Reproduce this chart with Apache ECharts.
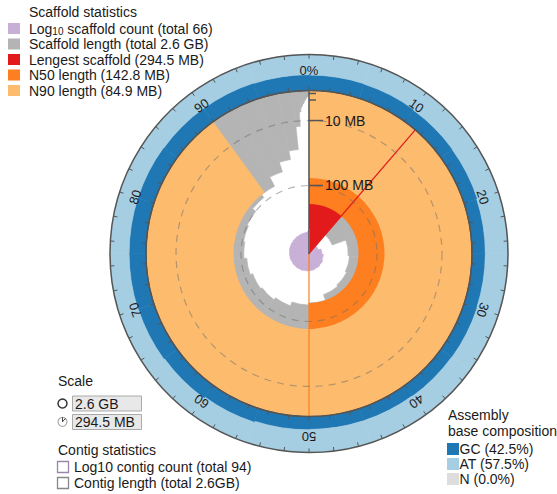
<!DOCTYPE html>
<html>
<head>
<meta charset="utf-8">
<title>Snail plot</title>
<script src="https://cdn.jsdelivr.net/npm/echarts@6.0.0/dist/echarts.min.js"></script>
<style>
html, body { margin: 0; padding: 0; background: #fff; }
#chart { width: 557px; height: 494px; }
</style>
</head>
<body>
<div id="chart"></div>
<script>
// Scaffold lengths (MB), longest first
const scaffoldLengths = [
  294.5, 212, 170, 166, 162, 158, 142.8,
  138, 128, 122, 118, 112, 106, 103, 100, 92, 84.9,
  66, 50, 38, 14, 5,
  3.2, 2.5, 2.0, 1.7, 1.4, 1.2, 1.0, 0.9, 0.8, 0.7, 0.65, 0.6, 0.55, 0.5, 0.45, 0.42,
  0.4, 0.37, 0.35, 0.32, 0.3, 0.28, 0.26, 0.24, 0.22, 0.2, 0.19, 0.18, 0.17, 0.16,
  0.15, 0.14, 0.13, 0.12, 0.11, 0.1, 0.09, 0.08, 0.07, 0.06, 0.05, 0.04, 0.03, 0.02
];
const longestMB = 294.5;
const n50MB = 142.8;
const n90MB = 84.9;
const scaffoldTotal = 66;
const contigTotal = 94;
// GC share (%) in each 5% window of the assembly
const gcWindows = [43, 42, 40, 39, 37, 37, 38, 37, 36, 36, 37, 40, 44, 46, 47, 47, 47, 46, 45, 44];
const basePct = { gc: 42.5, at: 57.5, n: 0.0 };
const radialMinorMB = [0.1, 1];
const radialMajorMB = [10, 100];
const ringLabels = ['0%', '10', '20', '30', '40', '50', '60', '70', '80', '90'];
const ringLabelPct = [0, 10, 20, 30, 40, 50, 60, 70, 80, 90];

const FONT = '"Liberation Sans", Arial, Helvetica, sans-serif';
const CX = 309, CY = 253.5;
const R_IN = 163, R_OUT = 199, R_COUNT = 25;
const C = {
  gray: '#b4b4b4', red: '#e31a1c', orange: '#fd7f1f', pale: '#fdbb6d',
  purple: '#c8afd6', gc: '#1f78b4', at: '#a6cee3', n: '#dddddd', axis: '#555555'
};

const totalMB = scaffoldLengths.reduce((a, b) => a + b, 0);
let acc = 0;
const spans = scaffoldLengths.map((len, i) => {
  const s = acc / totalMB * 100;
  acc += len;
  return [len, s, acc / totalMB * 100, i + 1];
});
const longestEnd = longestMB / totalMB * 100;

function angleAt(api, cs, pct, edgeVal) {
  const p = api.coord([edgeVal, pct]);
  return Math.atan2(p[1] - cs.cy, p[0] - cs.cx);
}
function radiusAt(api, cs, val, pct) {
  const p = api.coord([val, pct]);
  return Math.hypot(p[0] - cs.cx, p[1] - cs.cy);
}
function wedge(api, cs, v0, v1, p0, p1, edgeVal, fill, seam) {
  const r0 = radiusAt(api, cs, v0, p0), r1 = radiusAt(api, cs, v1, p0);
  const a0 = angleAt(api, cs, p0, edgeVal);
  let a1 = angleAt(api, cs, p1, edgeVal);
  while (a1 <= a0 + 1e-9) a1 += Math.PI * 2;
  return {
    type: 'sector',
    shape: { cx: cs.cx, cy: cs.cy, r0: Math.min(r0, r1), r: Math.max(r0, r1), startAngle: a0, endAngle: a1, clockwise: true },
    style: seam ? { fill, stroke: fill, lineWidth: 0.6 } : { fill }
  };
}
const sq = Math.sqrt;
const maxRoot = sq(longestMB);
const countRoot = sq(Math.log10(scaffoldTotal));

const gcData = gcWindows.map((g, i) => [g, i * 5, (i + 1) * 5]);

const series = [
  // scaffold length distribution
  {
    type: 'custom', coordinateSystem: 'polar', polarIndex: 0, z: 2, silent: true, clip: false,
    data: spans,
    renderItem(params, api) {
      return wedge(api, params.coordSys, sq(api.value(0)), 0, api.value(1), api.value(2), 0, C.gray, true);
    }
  },
  // longest scaffold
  {
    type: 'custom', coordinateSystem: 'polar', polarIndex: 0, z: 3, silent: true, clip: false,
    data: [[longestMB, 0, longestEnd]],
    renderItem(params, api) {
      return wedge(api, params.coordSys, sq(api.value(0)), 0, api.value(1), api.value(2), 0, C.red);
    }
  },
  // N50
  {
    type: 'custom', coordinateSystem: 'polar', polarIndex: 0, z: 4, silent: true, clip: false,
    data: [[n50MB, 0, 50]],
    renderItem(params, api) {
      return wedge(api, params.coordSys, sq(api.value(0)), 0, api.value(1), api.value(2), 0, C.orange);
    }
  },
  // N90
  {
    type: 'custom', coordinateSystem: 'polar', polarIndex: 0, z: 5, silent: true, clip: false,
    data: [[n90MB, 0, 90]],
    renderItem(params, api) {
      return wedge(api, params.coordSys, sq(api.value(0)), 0, api.value(1), api.value(2), 0, C.pale);
    }
  },
  // log10 cumulative scaffold count (square-root radial scale)
  {
    type: 'custom', coordinateSystem: 'polar', polarIndex: 2, z: 6, silent: true, clip: false,
    data: spans.map(s => [sq(Math.log10(s[3])), s[1], s[2]]),
    renderItem(params, api) {
      if (api.value(0) <= 0) return null;
      return wedge(api, params.coordSys, 0, api.value(0), api.value(1), api.value(2), countRoot, C.purple, true);
    }
  },
  // marker lines for longest scaffold and N50
  {
    type: 'custom', coordinateSystem: 'polar', polarIndex: 0, z: 7, silent: true, clip: false,
    data: [[longestEnd, 0], [50, 1]],
    renderItem(params, api) {
      const a = api.coord([maxRoot, api.value(0)]);
      const b = api.coord([0, api.value(0)]);
      return {
        type: 'line',
        shape: { x1: a[0], y1: a[1], x2: b[0], y2: b[1] },
        style: { stroke: api.value(1) ? C.orange : C.red, lineWidth: 1.2 }
      };
    }
  },
  // dashed reference circles
  {
    type: 'custom', coordinateSystem: 'polar', polarIndex: 0, z: 8, silent: true, clip: false,
    data: radialMajorMB.map(v => [sq(v), 0]),
    renderItem(params, api) {
      const cs = params.coordSys;
      return {
        type: 'circle',
        shape: { cx: cs.cx, cy: cs.cy, r: radiusAt(api, cs, api.value(0), 0) },
        style: { fill: 'none', stroke: 'rgba(110,110,110,0.5)', lineWidth: 1.2, lineDash: [7, 6] }
      };
    }
  },
  // radial length ticks and labels along the 0% line
  {
    type: 'custom', coordinateSystem: 'polar', polarIndex: 0, z: 12, silent: true, clip: false,
    data: radialMinorMB.map(v => [sq(v), 0, 0]).concat(radialMajorMB.map(v => [sq(v), 0, 1])),
    renderItem(params, api) {
      const p = api.coord([api.value(0), api.value(1)]);
      const major = api.value(2) === 1;
      const children = [{
        type: 'line',
        shape: { x1: p[0], y1: p[1], x2: p[0] + (major ? 14 : 7), y2: p[1] },
        style: { stroke: C.axis, lineWidth: 1.5 }
      }];
      if (major) {
        const mb = Math.round(api.value(0) * api.value(0));
        children.push({
          type: 'text', x: p[0] + 16, y: p[1],
          style: {
            text: mb + ' MB', x: 0, y: 0, fill: '#1a1a1a', fontSize: 14, fontFamily: FONT,
            align: 'left', verticalAlign: 'middle', textAlign: 'left', textVerticalAlign: 'middle'
          }
        });
      }
      return { type: 'group', children };
    }
  },
  // base composition ring
  {
    type: 'custom', coordinateSystem: 'polar', polarIndex: 1, z: 2, silent: true, clip: false,
    data: gcData,
    renderItem(params, api) {
      const cs = params.coordSys;
      const g = api.value(0), p0 = api.value(1), p1 = api.value(2);
      return {
        type: 'group',
        children: [
          wedge(api, cs, 0, g, p0, p1, 50, C.gc, true),
          wedge(api, cs, g, 100, p0, p1, 50, C.at, true)
        ]
      };
    }
  },
  // ring percentage labels
  {
    type: 'custom', coordinateSystem: 'polar', polarIndex: 1, z: 9, silent: true, clip: false,
    data: ringLabelPct.map(p => [55, p]),
    renderItem(params, api) {
      const pt = api.coord([api.value(0), api.value(1)]);
      return {
        type: 'text',
        x: pt[0], y: pt[1],
        rotation: -api.value(1) * 3.6 * Math.PI / 180,
        style: {
          text: ringLabels[params.dataIndex], x: 0, y: 0,
          fill: '#1a1a1a', fontSize: 13, fontFamily: FONT,
          align: 'center', verticalAlign: 'middle', textAlign: 'center', textVerticalAlign: 'middle'
        }
      };
    }
  }
];

const hidden = { show: false };
const option = {
  animation: false,
  backgroundColor: '#ffffff',
  polar: [
    { center: [CX, CY], radius: [0, R_IN] },
    { center: [CX, CY], radius: [R_IN, R_OUT] },
    { center: [CX, CY], radius: [0, R_COUNT] }
  ],
  angleAxis: [
    {
      polarIndex: 0, type: 'value', min: 0, max: 100, interval: 2, startAngle: 90, clockwise: true, z: 10,
      axisLine: { show: true, lineStyle: { color: C.axis, width: 1.2 } },
      axisTick: { show: true, length: 4, lineStyle: { color: C.axis, width: 1 } },
      axisLabel: hidden, splitLine: hidden, splitArea: hidden
    },
    {
      polarIndex: 1, type: 'value', min: 0, max: 100, interval: 2, startAngle: 90, clockwise: true, z: 10,
      axisLine: { show: true, lineStyle: { color: C.axis, width: 1.5 } },
      axisTick: { show: true, inside: true, length: 4, lineStyle: { color: C.axis, width: 1 } },
      axisLabel: hidden, splitLine: hidden, splitArea: hidden
    },
    { polarIndex: 2, type: 'value', min: 0, max: 100, startAngle: 90, clockwise: true, show: false }
  ],
  radiusAxis: [
    {
      polarIndex: 0, type: 'value', min: 0, max: maxRoot, inverse: true, z: 11,
      axisLine: { show: true, lineStyle: { color: C.axis, width: 1.5 } },
      axisTick: hidden, axisLabel: hidden, splitLine: hidden, splitArea: hidden
    },
    { polarIndex: 1, type: 'value', min: 0, max: 100, show: false },
    { polarIndex: 2, type: 'value', min: 0, max: countRoot, show: false }
  ],
  series,
  graphic: []
};

// legend blocks
const g = option.graphic;
function txt(x, y, text, size, extra) {
  g.push(Object.assign({
    type: 'text', x, y, silent: true,
    style: { text, fill: '#1a1a1a', fontSize: size || 14, fontFamily: FONT, verticalAlign: 'middle', textVerticalAlign: 'middle' }
  }, extra || {}));
}
function box(x, y, w, h, fill, stroke, lw) {
  g.push({ type: 'rect', silent: true, shape: { x, y, width: w, height: h },
    style: { fill: fill || 'none', stroke: stroke || null, lineWidth: lw || 0 } });
}

txt(29, 12, 'Scaffold statistics');
const scaffoldLegend = [
  [C.purple, null],
  [C.gray, 'Scaffold length (total 2.6 GB)'],
  [C.red, 'Lengest scaffold (' + longestMB + ' MB)'],
  [C.orange, 'N50 length (' + n50MB + ' MB)'],
  [C.pale, 'N90 length (' + n90MB + ' MB)']
];
const legendY = [28.5, 44, 59.5, 75, 90.5];
scaffoldLegend.forEach((it, i) => {
  box(8, legendY[i] - 5.5, 12, 11, it[0]);
  if (it[1]) txt(29, legendY[i], it[1]);
});
g.push({
  type: 'text', x: 29, y: legendY[0], silent: true,
  style: {
    text: '{a|Log}{s|10}{a| scaffold count (total ' + scaffoldTotal + ')}',
    fontFamily: FONT, verticalAlign: 'middle', textVerticalAlign: 'middle',
    rich: {
      a: { fontSize: 14, fontFamily: FONT, fill: '#1a1a1a', color: '#1a1a1a' },
      s: { fontSize: 10, fontFamily: FONT, fill: '#1a1a1a', color: '#1a1a1a', padding: [5, 0, 0, 0] }
    }
  }
});

txt(58, 381, 'Scale');
g.push({ type: 'circle', silent: true, shape: { cx: 62.5, cy: 403.5, r: 4.5 }, style: { fill: 'none', stroke: '#333', lineWidth: 1.5 } });
box(72.5, 396, 69, 15, '#e8e8e8', '#aaaaaa', 1);
txt(75, 403.5, '2.6 GB');
g.push({ type: 'circle', silent: true, shape: { cx: 62.5, cy: 421.8, r: 4.5 }, style: { fill: 'none', stroke: '#aaaaaa', lineWidth: 1.2 } });
g.push({ type: 'polyline', silent: true, shape: { points: [[62.5, 417.3], [62.5, 421.8], [65.4, 418.4]] }, style: { fill: 'none', stroke: '#444', lineWidth: 1 } });
box(72.5, 414.5, 69, 15, '#e8e8e8', '#aaaaaa', 1);
txt(75, 422, '294.5 MB');

txt(58, 449.5, 'Contig statistics');
box(57.5, 461.5, 11, 11, '#ffffff', '#9a86ad', 1.3);
txt(74, 467, 'Log10 contig count (total ' + contigTotal + ')');
box(57.5, 477.5, 11, 11, '#ffffff', '#888888', 1.3);
txt(74, 483, 'Contig length (total 2.6GB)');

txt(448, 415, 'Assembly');
txt(448, 430.5, 'base composition');
const baseLegend = [
  [C.gc, 'GC (' + basePct.gc.toFixed(1) + '%)'],
  [C.at, 'AT (' + basePct.at.toFixed(1) + '%)'],
  [C.n, 'N (' + basePct.n.toFixed(1) + '%)']
];
baseLegend.forEach((it, i) => {
  const y = 449 + i * 15;
  box(447, y - 6, 12, 12, it[0]);
  txt(459.5, y, it[1]);
});

const chart = echarts.init(document.getElementById('chart'), null, { renderer: 'svg', width: 557, height: 494 });
chart.setOption(option);
</script>
</body>
</html>
